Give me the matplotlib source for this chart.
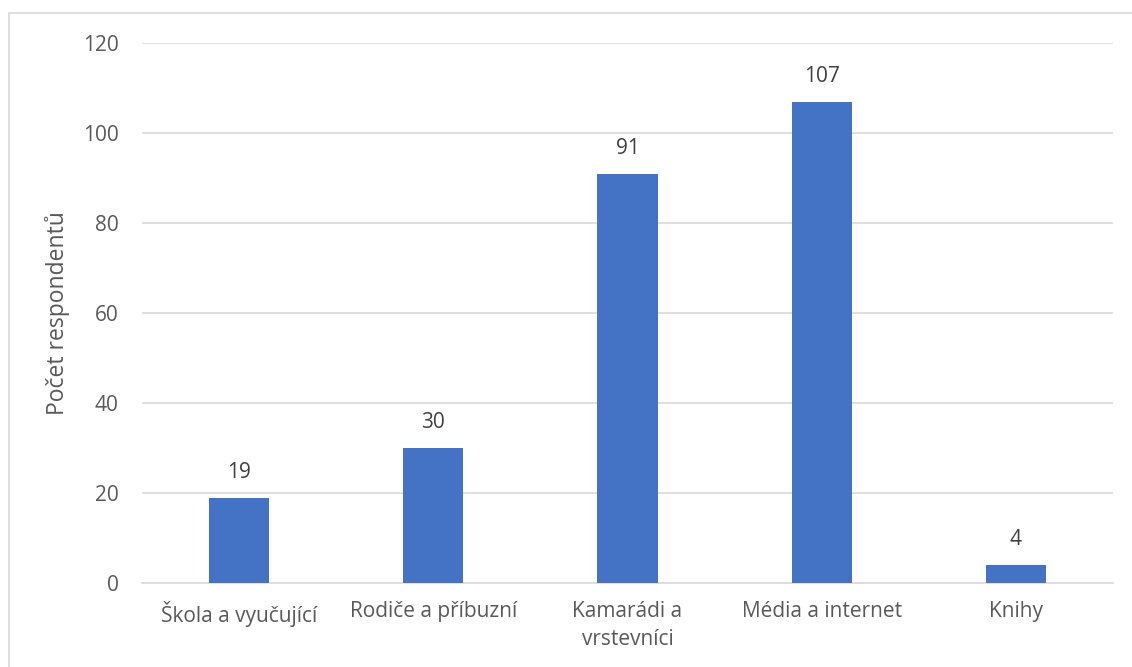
import matplotlib.pyplot as plt
from matplotlib.patches import Rectangle

categories = ["Škola a vyučující", "Rodiče a příbuzní", "Kamarádi a\nvrstevníci",
              "Média a internet", "Knihy"]
values = [19, 30, 91, 107, 4]
y_ticks = [0, 20, 40, 60, 80, 100, 120]

plt.rcParams['font.family'] = ['Open Sans', 'DejaVu Sans']
text_color = "#595959"
grid_color = "#D9D9D9"

fig = plt.figure(figsize=(11.32, 6.67), dpi=100)
ax = fig.add_axes([142 / 1132, 84 / 667, 971 / 1132, 540 / 667])

# outer chart frame
fig.patches.append(Rectangle((9 / 1132, -0.1), 1.2, 1 - 13 / 667 + 0.1,
                             transform=fig.transFigure, fill=False,
                             edgecolor=grid_color, linewidth=1.2))

x = list(range(len(categories)))
bars = ax.bar(x, values, width=0.31, color="#4472C4", zorder=3)
for b, v in zip(bars, values):
    ax.text(b.get_x() + b.get_width() / 2, v + 3.3, str(v), ha="center",
            va="bottom", fontsize=15, color="#404040")

ax.set_xlim(-0.5, len(categories) - 0.5)
ax.set_ylim(0, 120)
ax.set_yticks(y_ticks)
ax.set_xticks(x)
ax.set_xticklabels(categories, linespacing=1.45, va="top")
ax.tick_params(axis="both", length=0, labelsize=15, labelcolor=text_color)
ax.tick_params(axis="y", pad=17)
ax.tick_params(axis="x", pad=13)
ax.grid(axis="y", color=grid_color, linewidth=1.2, zorder=0)
for s in ["top", "right", "left"]:
    ax.spines[s].set_visible(False)
ax.spines["bottom"].set_color(grid_color)
ax.spines["bottom"].set_linewidth(1.2)
ax.set_ylabel("Počet respondentů", fontsize=16.5, color=text_color, labelpad=9)

fig.savefig("out.png", dpi=100)
